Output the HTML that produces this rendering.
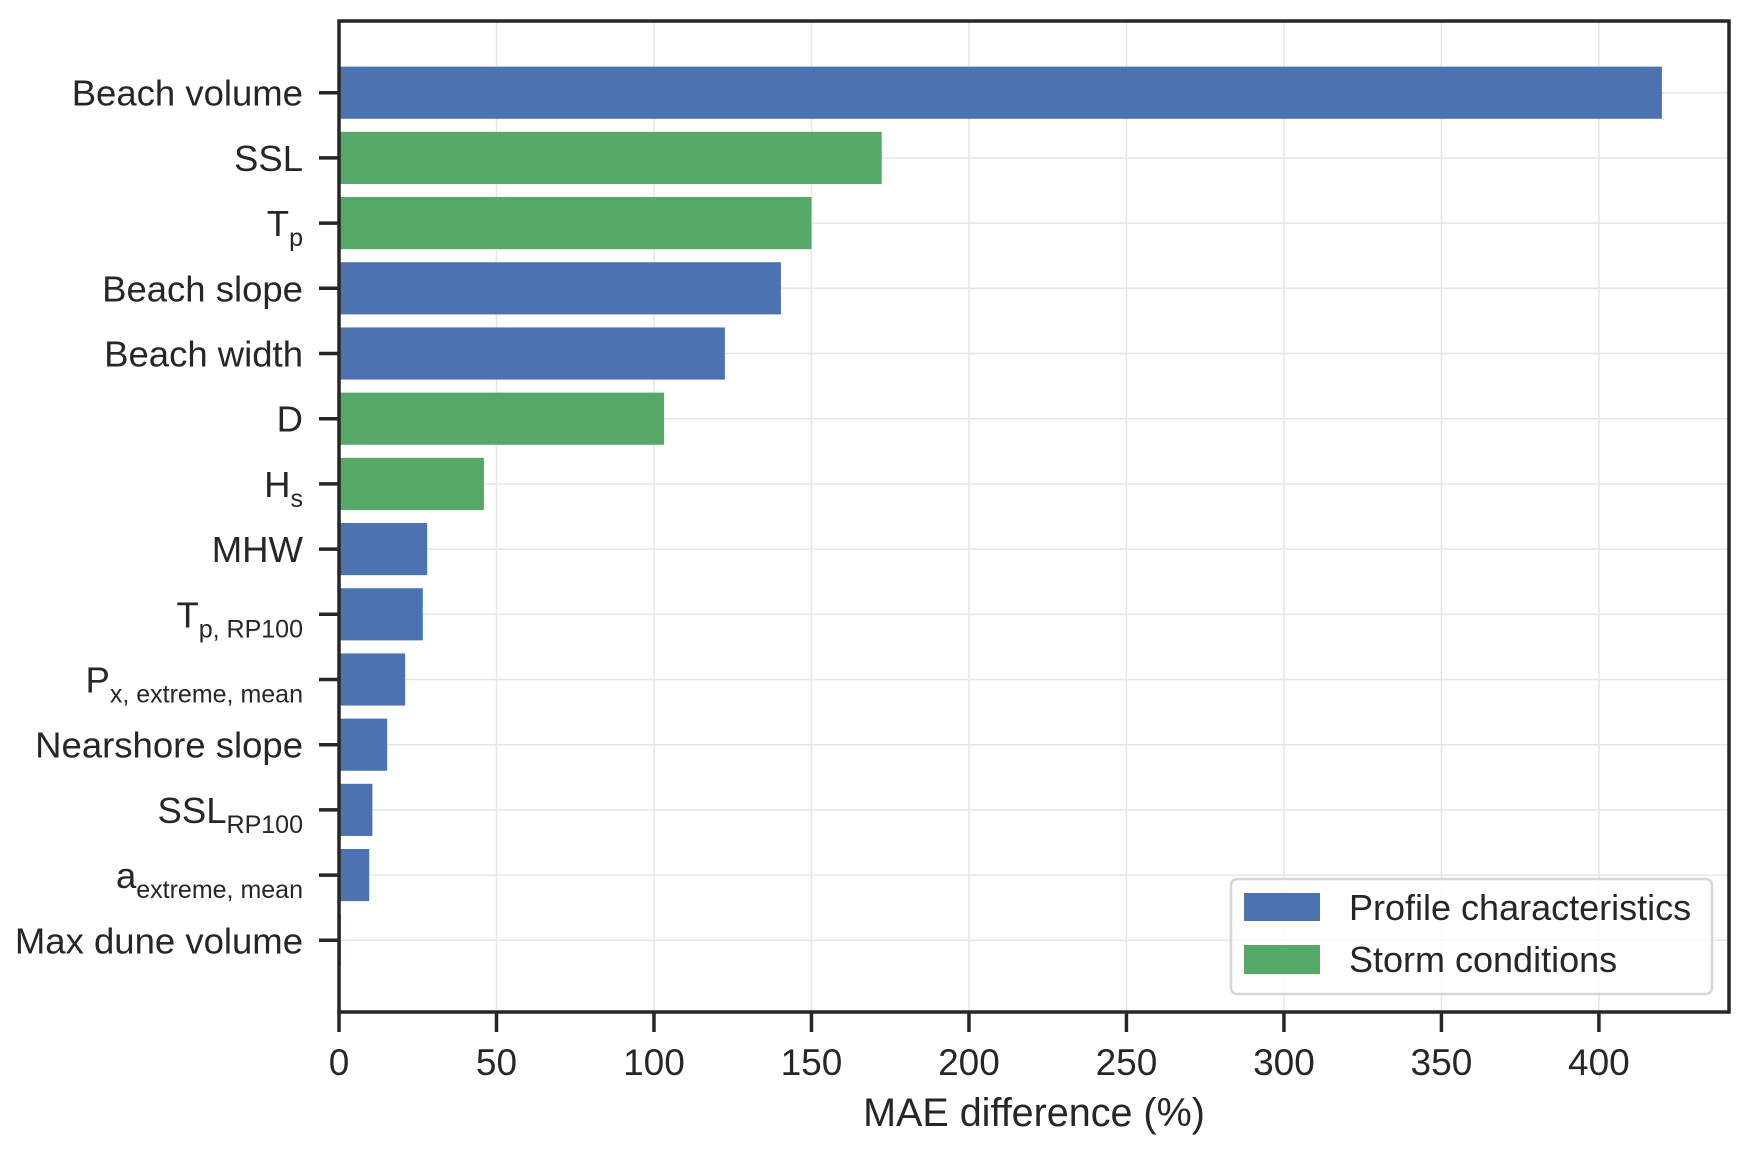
<!DOCTYPE html>
<html><head><meta charset="utf-8"><style>
html,body{margin:0;padding:0;background:#fff;}
svg{display:block;font-family:"Liberation Sans",sans-serif;}
</style></head><body>
<svg id="chart" width="1750" height="1152" viewBox="0 0 1750 1152" xmlns="http://www.w3.org/2000/svg">
<rect width="1750" height="1152" fill="#fff"/>
<g id="grid"></g>
<g id="bars"></g>
<g id="yticks"></g>
<g id="xticks"></g>
<rect x="339" y="21" width="1390" height="991" fill="none" stroke="#262626" stroke-width="3.5"/>
<text x="1034" y="1126" font-size="39.5" text-anchor="middle" fill="#262626">MAE difference (%)</text>
<g>
<rect x="1231" y="879" width="481" height="115" rx="6" fill="#fff" fill-opacity="0.8" stroke="#d6d6d6" stroke-width="2.5"/>
<rect x="1244" y="893" width="76" height="28" fill="#4c72b0"/>
<text x="1349" y="920" font-size="36" fill="#262626">Profile characteristics</text>
<rect x="1244" y="945" width="76" height="29" fill="#55a868"/>
<text x="1349" y="972" font-size="36" fill="#262626">Storm conditions</text>
</g>
</svg>
<script>
const categories = ["Beach volume","SSL","Tp","Beach slope","Beach width","D","Hs","MHW","Tp,RP100","Px,extreme,mean","Nearshore slope","SSLRP100","aextreme,mean","Max dune volume"];
const labelMain = ["Beach volume","SSL","T","Beach slope","Beach width","D","H","MHW","T","P","Nearshore slope","SSL","a","Max dune volume"];
const labelSub = ["","","p","","","","s","","p, RP100","x, extreme, mean","","RP100","extreme, mean",""];
const values = [420, 172.3, 150, 140.3, 122.5, 103.2, 46, 28, 26.6, 21, 15.3, 10.6, 9.6, 0.6];
const groups = ["profile","storm","storm","profile","profile","storm","storm","profile","profile","profile","profile","profile","profile","profile"];
const xTicks = [0,50,100,150,200,250,300,350,400];

const NS = "http://www.w3.org/2000/svg";
const X0 = 339, X1 = 1729, XMAX = 441.3;
const Y0 = 21, Y1 = 1012, YMIN = -1.1, YMAX = categories.length - 1 + 1.1;
const xs = v => X0 + v / XMAX * (X1 - X0);
const ys = i => Y0 + (i - YMIN) / (YMAX - YMIN) * (Y1 - Y0);
const step = (Y1 - Y0) / (YMAX - YMIN);
const colors = {profile:"#4c72b0", storm:"#55a868"};
function mk(tag, attrs, parent){const e=document.createElementNS(NS,tag);for(const k in attrs)e.setAttribute(k,attrs[k]);parent.appendChild(e);return e;}
const grid = document.getElementById("grid"), bars = document.getElementById("bars"), yt = document.getElementById("yticks"), xt = document.getElementById("xticks");

xTicks.forEach(t => {
  const x = xs(t);
  const g = mk("line",{x1:x,x2:x,y1:Y0,y2:Y1,stroke:"#e6e6e6","stroke-width":1.5},grid);
  
  
  const tk = mk("line",{x1:x,x2:x,y1:Y1,y2:Y1+20,stroke:"#262626","stroke-width":3.5},xt);
  
  
  const lb = mk("text",{x:x,y:Y1+63,"font-size":37,"text-anchor":"middle",fill:"#262626"},xt);
  lb.textContent = t;
  
  
});

categories.forEach((c,i) => {
  const y = ys(i);
  const g = mk("line",{x1:X0,x2:X1,y1:y,y2:y,stroke:"#e6e6e6","stroke-width":1.5},grid);
  
  
  const h = step * 0.8;
  const b = mk("rect",{x:xs(0),y:y-h/2,width:Math.max(xs(values[i])-xs(0),1.5),height:h,fill:colors[groups[i]]},bars);
  
  
  const tk = mk("line",{x1:X0-20,x2:X0,y1:y,y2:y,stroke:"#262626","stroke-width":3.5},yt);
  
  
  const t = mk("text",{x:303,y:y+13,"font-size":36.5,"text-anchor":"end",fill:"#262626"},yt);
  
  
  const m = mk("tspan",{},t); m.textContent = labelMain[i];
  if (labelSub[i]) { const s = mk("tspan",{"font-size":25,dy:10},t); s.textContent = labelSub[i]; }
});
</script>
</body></html>
